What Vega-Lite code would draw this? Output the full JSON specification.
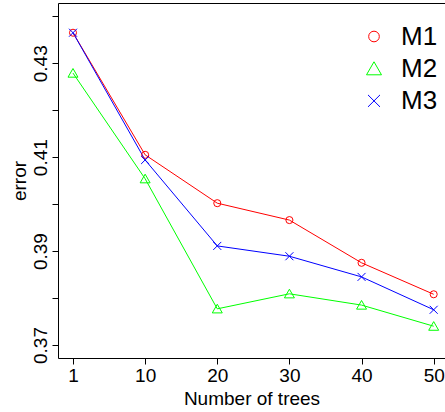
{
  "$schema": "https://vega.github.io/schema/vega-lite/v6.json",
  "width": 387,
  "height": 355,
  "autosize": {"type": "none"},
  "padding": {"left": 58, "top": 3, "right": 0, "bottom": 54},
  "background": "white",
  "config": {
    "view": {"stroke": null},
    "font": "Liberation Sans",
    "axis": {
      "labelFont": "Liberation Sans",
      "titleFont": "Liberation Sans",
      "labelFontSize": 19,
      "titleFontSize": 19,
      "titleFontWeight": "normal",
      "labelColor": "black",
      "titleColor": "black",
      "domainColor": "black",
      "tickColor": "black",
      "domainWidth": 1,
      "tickWidth": 1,
      "tickSize": 6,
      "grid": false
    },
    "legend": {
      "orient": "none",
      "legendX": 303,
      "legendY": 20.5,
      "padding": 0,
      "title": null,
      "labelFont": "Liberation Sans",
      "labelFontSize": 26,
      "labelColor": "black",
      "symbolSize": 113,
      "symbolStrokeWidth": 1,
      "labelOffset": 14,
      "rowPadding": 6.2
    }
  },
  "data": {
    "values": [
      {"trees": 1, "model": "M1", "error": 0.4365},
      {"trees": 10, "model": "M1", "error": 0.4105},
      {"trees": 20, "model": "M1", "error": 0.4002},
      {"trees": 30, "model": "M1", "error": 0.3966},
      {"trees": 40, "model": "M1", "error": 0.3875},
      {"trees": 50, "model": "M1", "error": 0.3808},
      {"trees": 1, "model": "M2", "error": 0.4279},
      {"trees": 10, "model": "M2", "error": 0.4054},
      {"trees": 20, "model": "M2", "error": 0.3777},
      {"trees": 30, "model": "M2", "error": 0.3809},
      {"trees": 40, "model": "M2", "error": 0.3785},
      {"trees": 50, "model": "M2", "error": 0.374},
      {"trees": 1, "model": "M3", "error": 0.4365},
      {"trees": 10, "model": "M3", "error": 0.4094},
      {"trees": 20, "model": "M3", "error": 0.3911},
      {"trees": 30, "model": "M3", "error": 0.3889},
      {"trees": 40, "model": "M3", "error": 0.3845},
      {"trees": 50, "model": "M3", "error": 0.3775}
    ]
  },
  "encoding": {
    "y": {
      "field": "error",
      "type": "quantitative",
      "scale": {"domain": [0.36723, 0.44283], "zero": false, "nice": false},
      "axis": {
        "title": "error",
        "values": [0.37, 0.38, 0.39, 0.4, 0.41, 0.42, 0.43, 0.44],
        "format": ".2f",
        "labelExpr": "indexof(['0.37','0.39','0.41','0.43'], datum.label) >= 0 ? datum.label : ''",
        "labelAngle": -90,
        "labelAlign": "center",
        "labelBaseline": "alphabetic",
        "labelPadding": 6,
        "titlePadding": 2
      }
    },
    "color": {
      "field": "model",
      "type": "nominal",
      "scale": {"domain": ["M1", "M2", "M3"], "range": ["#ff0000", "#00ff00", "#0000ff"]}
    }
  },
  "layer": [
    {
      "mark": {"type": "line", "strokeWidth": 1},
      "encoding": {
        "x": {
          "field": "trees",
          "type": "ordinal",
          "sort": "ascending",
          "scale": {"type": "point", "padding": 0.1823, "align": 0.57},
          "axis": {"orient": "top", "title": null, "labels": false, "ticks": false}
        }
      }
    },
    {
      "mark": {"type": "point", "filled": false, "strokeWidth": 1, "size": 50, "opacity": 1},
      "encoding": {
        "x": {
          "field": "trees",
          "type": "ordinal",
          "sort": "ascending",
          "scale": {"type": "point", "padding": 0.1823, "align": 0.57},
          "axis": {"orient": "bottom", "title": "Number of trees", "labelAngle": 0, "labelPadding": 2, "titlePadding": 4, "labelBaseline": "top"}
        },
        "shape": {
          "field": "model",
          "type": "nominal",
          "scale": {"domain": ["M1", "M2", "M3"], "range": ["circle", "M0,-1.3L1.41,1.15L-1.41,1.15Z", "M-1.13,-1.13L1.13,1.13M1.13,-1.13L-1.13,1.13"]}
        }
      }
    }
  ]
}
